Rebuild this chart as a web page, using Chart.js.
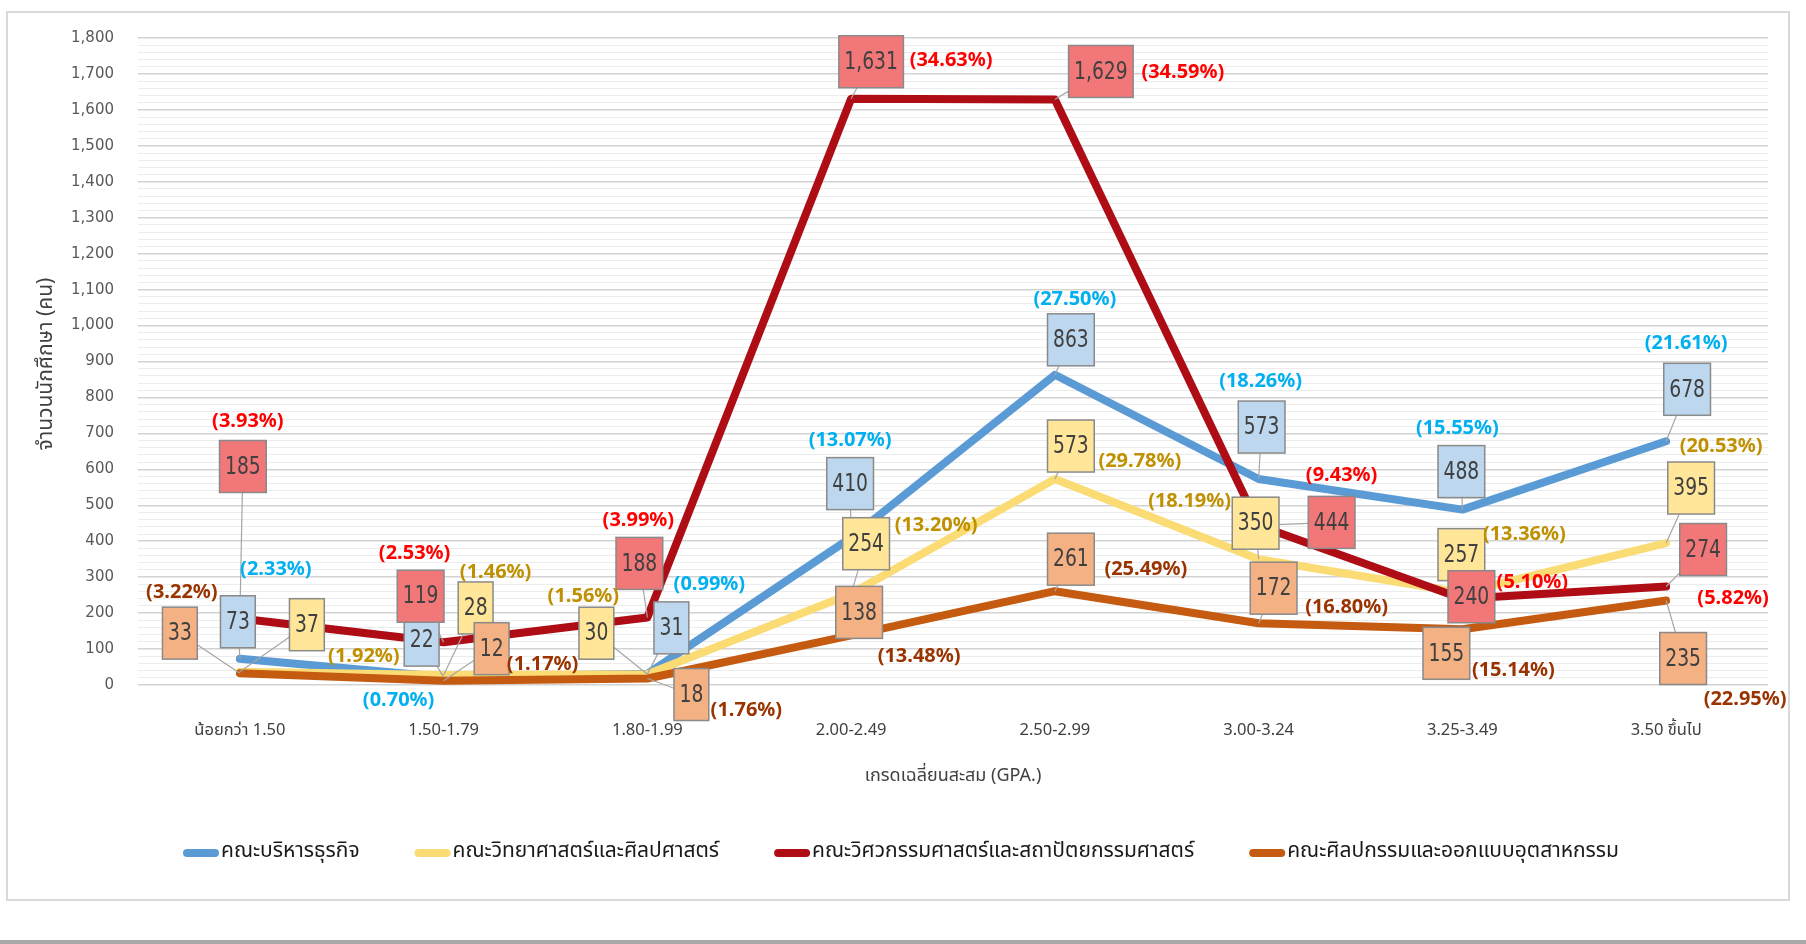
<!DOCTYPE html>
<html>
<head>
<meta charset="utf-8">
<script src="https://cdn.jsdelivr.net/npm/chart.js@4.4.1/dist/chart.umd.min.js"></script>
<style>
  html, body { margin: 0; padding: 0; background: #fff; }
  #wrap { position: relative; width: 1806px; height: 944px; }
</style>
</head>
<body>
<div id="wrap"><canvas id="gpaChart" width="1806" height="944"></canvas></div>
<script>
const categories = ['น้อยกว่า 1.50', '1.50-1.79', '1.80-1.99', '2.00-2.49', '2.50-2.99', '3.00-3.24', '3.25-3.49', '3.50 ขึ้นไป'];
const seriesNames = ['คณะบริหารธุรกิจ', 'คณะวิทยาศาสตร์และศิลปศาสตร์', 'คณะวิศวกรรมศาสตร์และสถาปัตยกรรมศาสตร์', 'คณะศิลปกรรมและออกแบบอุตสาหกรรม'];

const business = [73, 22, 31, 410, 863, 573, 488, 678];
const science = [37, 28, 30, 254, 573, 350, 257, 395];
const engineering = [185, 119, 188, 1631, 1629, 444, 240, 274];
const arts = [33, 12, 18, 138, 261, 172, 155, 235];

const businessPct = ['2.33', '0.70', '0.99', '13.07', '27.50', '18.26', '15.55', '21.61'];
const sciencePct = ['1.92', '1.46', '1.56', '13.20', '29.78', '18.19', '13.36', '20.53'];
const engineeringPct = ['3.93', '2.53', '3.99', '34.63', '34.59', '9.43', '5.10', '5.82'];
const artsPct = ['3.22', '1.17', '1.76', '13.48', '25.49', '16.80', '15.14', '22.95'];

const yMax = 1800;
const yMajorStep = 100;
const yMinorStep = 20;

// label placement, pixel offsets from each point
const boxOffsets = [
    [[-2, -37], [-22, -37], [24, -46], [-1, -54], [16, -35], [3, -52], [-1, -38], [21, -52]],
    [[67, -47], [32, -67], [-51, -41], [15, -50], [16, -33], [-3, -36], [-1, -38], [25, -55]],
    [[3, -152], [-23, -46], [-8, -54], [20, -37], [46, -28], [73, -3], [9, -2], [37, -37]],
    [[-60, -40], [48, -32], [44, 16], [8, -23], [16, -32], [15, -35], [-16, 24], [17, 58]]
];
const pctOffsets = [
    [[36, -89], [-45, 23], [62, -90], [-1, -97], [20, -76], [2, -98], [-5, -81], [20, -98]],
    [[124, -15], [52, -103], [-64, -78], [85, -68], [85, -18], [-69, -58], [62, -58], [55, -97]],
    [[8, -197], [-29, -89], [-9, -97], [100, -38], [128, -27], [83, -50], [70, -16], [67, 12]],
    [[-58, -81], [99, -16], [99, 32], [68, 21], [91, -22], [88, -16], [51, 41], [79, 99]]
];

const lineColors = ['#5B9BD5', '#FADB74', '#AE0D15', '#C55A11'];
const boxColors = ['#BDD7EE', '#FFE699', '#F27779', '#F4B183'];
const pctColors = ['#00B0F0', '#BF9000', '#FF0000', '#993300'];
const pctLists = [businessPct, sciencePct, engineeringPct, artsPct];

const thaiFont = "Tahoma, 'Noto Sans Thai', 'Loma', 'Garuda', 'Noto Sans', 'DejaVu Sans', sans-serif";
const squeeze = 0.78;

const labelPlugin = {
    id: 'labels',
    beforeDraw(chart) {
        const ctx = chart.ctx;
        ctx.save();
        ctx.fillStyle = '#fff';
        ctx.fillRect(0, 0, chart.width, chart.height);
        ctx.strokeStyle = '#d9d9d9';
        ctx.lineWidth = 2;
        ctx.strokeRect(7, 12, 1782, 888);
        ctx.fillStyle = '#a8a8a8';
        ctx.fillRect(0, 940, chart.width, 4);
        ctx.restore();
    },
    afterDatasetsDraw(chart) {
        const ctx = chart.ctx;
        ctx.save();
        ctx.font = "24px 'DejaVu Sans', sans-serif";
        const boxes = [];
        chart.data.datasets.forEach((ds, s) => {
            const meta = chart.getDatasetMeta(s);
            meta.data.forEach((pt, i) => {
                const txt = ds.data[i].toLocaleString('en-US');
                const w = ctx.measureText(txt).width * squeeze + 11;
                const h = 52;
                const cx = pt.x + boxOffsets[s][i][0];
                const cy = pt.y + boxOffsets[s][i][1];
                boxes.push({ s, i, txt, w, h, cx, cy, px: pt.x, py: pt.y });
            });
        });
        // leader lines
        ctx.strokeStyle = '#a6a6a6';
        ctx.lineWidth = 1.2;
        boxes.forEach(b => {
            const dx = b.px - b.cx, dy = b.py - b.cy;
            if (Math.abs(dx) < b.w / 2 && Math.abs(dy) < b.h / 2) return;
            const t = Math.min(
                dx !== 0 ? (b.w / 2) / Math.abs(dx) : Infinity,
                dy !== 0 ? (b.h / 2) / Math.abs(dy) : Infinity
            );
            ctx.beginPath();
            ctx.moveTo(b.cx + dx * t, b.cy + dy * t);
            ctx.lineTo(b.px, b.py);
            ctx.stroke();
        });
        // boxes
        boxes.forEach(b => {
            ctx.fillStyle = boxColors[b.s];
            ctx.fillRect(b.cx - b.w / 2, b.cy - b.h / 2, b.w, b.h);
            ctx.strokeStyle = '#8a8a8a';
            ctx.lineWidth = 1.5;
            ctx.strokeRect(b.cx - b.w / 2, b.cy - b.h / 2, b.w, b.h);
            ctx.fillStyle = '#404040';
            ctx.textAlign = 'center';
            ctx.textBaseline = 'middle';
            ctx.save();
            ctx.translate(b.cx, b.cy + 1);
            ctx.scale(squeeze, 1);
            ctx.fillText(b.txt, 0, 0);
            ctx.restore();
        });
        // percentages
        ctx.font = "bold 20px 'Noto Sans', sans-serif";
        boxes.forEach(b => {
            ctx.fillStyle = pctColors[b.s];
            ctx.fillText('(' + pctLists[b.s][b.i] + '%)', b.px + pctOffsets[b.s][b.i][0], b.py + pctOffsets[b.s][b.i][1]);
        });

        // axis titles
        const area = chart.chartArea;
        ctx.fillStyle = '#404040';
        ctx.font = '18px ' + thaiFont;
        ctx.fillText('เกรดเฉลี่ยนสะสม (GPA.)', (area.left + area.right) / 2, 777);
        ctx.save();
        ctx.translate(48, 364);
        ctx.rotate(-Math.PI / 2);
        ctx.font = '21px ' + thaiFont;
        ctx.fillText('จำนวนนักศึกษา (คน)', 0, 0);
        ctx.restore();

        // legend
        ctx.font = '21px ' + thaiFont;
        const sw = 36, gap = 55;
        const widths = seriesNames.map(n => sw + 2 + ctx.measureText(n).width);
        const total = widths.reduce((a, b) => a + b, 0) + gap * (widths.length - 1);
        let x = 901 - total / 2;
        const ly = 853;
        seriesNames.forEach((n, s) => {
            ctx.strokeStyle = lineColors[s];
            ctx.lineWidth = 8;
            ctx.lineCap = 'round';
            ctx.beginPath();
            ctx.moveTo(x + 4, ly);
            ctx.lineTo(x + sw - 4, ly);
            ctx.stroke();
            ctx.fillStyle = '#1a1a1a';
            ctx.textAlign = 'left';
            ctx.fillText(n, x + sw + 2, ly);
            x += widths[s] + gap;
        });
        ctx.restore();
    }
};

const seriesData = [business, science, engineering, arts];

new Chart(document.getElementById('gpaChart'), {
    type: 'line',
    data: {
        labels: categories,
        datasets: seriesData.map((d, s) => ({
            label: seriesNames[s],
            data: d,
            borderColor: lineColors[s],
            backgroundColor: lineColors[s],
            borderWidth: 8,
            borderJoinStyle: 'round',
            borderCapStyle: 'round',
            pointRadius: 0,
            tension: 0,
            order: [3, 2, 1, 0][s]
        }))
    },
    options: {
        responsive: false,
        animation: false,
        devicePixelRatio: 1,
        layout: { padding: { top: 38, right: 38, bottom: 199, left: 0 } },
        plugins: {
            legend: { display: false },
            tooltip: { enabled: false }
        },
        scales: {
            x: {
                offset: true,
                grid: { display: false },
                border: { display: false },
                ticks: { color: '#404040', font: { size: 16.5, family: thaiFont }, padding: 29, maxRotation: 0 },
                afterFit: scale => { scale.height = 60; }
            },
            y: {
                min: 0,
                max: yMax,
                border: { display: false },
                grid: {
                    drawTicks: false,
                    color: c => (c.tick.value % yMajorStep === 0 ? '#d3d3d3' : '#ececec'),
                    lineWidth: c => (c.tick.value % yMajorStep === 0 ? 1.5 : 1)
                },
                ticks: {
                    stepSize: yMinorStep,
                    autoSkip: false,
                    color: '#595959',
                    padding: 24,
                    font: { size: 15, family: "'DejaVu Sans', sans-serif" },
                    callback: v => (v % yMajorStep === 0 ? v.toLocaleString('en-US') : '')
                },
                afterFit: scale => { scale.width = 138; }
            }
        }
    },
    plugins: [labelPlugin]
});
</script>
</body>
</html>
